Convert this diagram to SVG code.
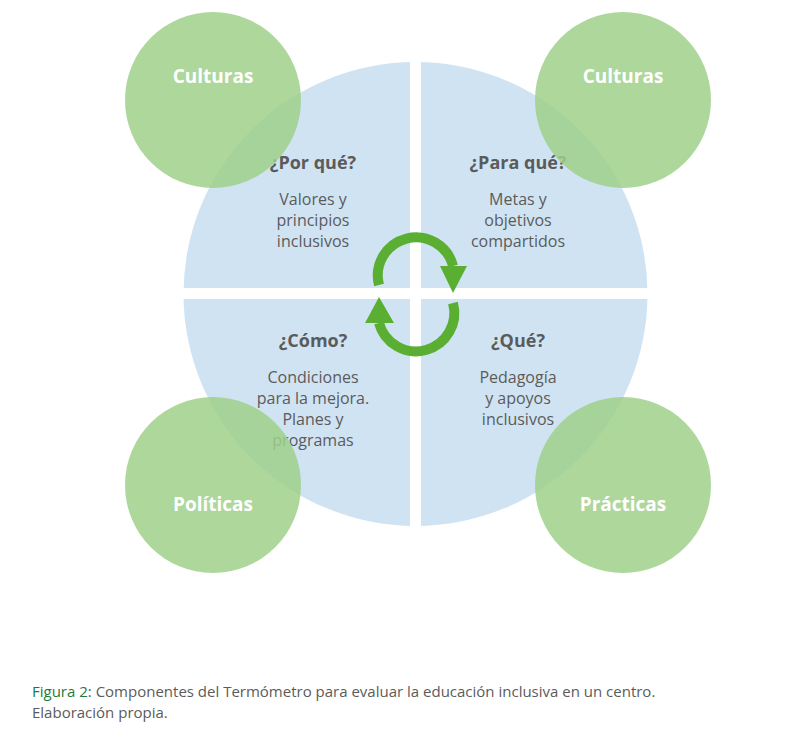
<svg xmlns="http://www.w3.org/2000/svg" width="791" height="737" viewBox="0 0 791 737">
<style>
.q{font-family:"Open Sans","Liberation Sans",sans-serif;fill:#5b5b5b;text-anchor:middle}
.h{font-size:18px;font-weight:bold}
.t{font-size:16px}
.g{fill:#9fd08a;opacity:0.85}
.gl{font-family:"Open Sans","Liberation Sans",sans-serif;font-size:19px;font-weight:bold;fill:#fff;text-anchor:middle}
.cap{font-family:"Open Sans","Liberation Sans",sans-serif;font-size:15px;fill:#5b5b5b}
</style>
<rect width="791" height="737" fill="#fff"/>
<g id="wheel">
<circle cx="415.5" cy="294" r="232" fill="#d0e3f3"/>
<rect x="410" y="55" width="11" height="480" fill="#fff"/>
<rect x="175" y="288" width="480" height="11" fill="#fff"/>
</g>
<g id="por-que" class="q"><text class="h" x="313" y="169">¿Por qué?</text><text class="t" x="313" y="205">Valores y</text><text class="t" x="313" y="226">principios</text><text class="t" x="313" y="247">inclusivos</text></g>
<g id="para-que" class="q"><text class="h" x="518" y="169">¿Para qué?</text><text class="t" x="518" y="205">Metas y</text><text class="t" x="518" y="226">objetivos</text><text class="t" x="518" y="247">compartidos</text></g>
<g id="como" class="q"><text class="h" x="313" y="347">¿Cómo?</text><text class="t" x="313" y="383">Condiciones</text><text class="t" x="313" y="404">para la mejora.</text><text class="t" x="313" y="425">Planes y</text><text class="t" x="313" y="446">programas</text></g>
<g id="que" class="q"><text class="h" x="518" y="347">¿Qué?</text><text class="t" x="518" y="383">Pedagogía</text><text class="t" x="518" y="404">y apoyos</text><text class="t" x="518" y="425">inclusivos</text></g>
<g id="culturas1"><circle class="g" cx="213" cy="100" r="88"/><text class="gl" x="213" y="83">Culturas</text></g>
<g id="culturas2"><circle class="g" cx="623" cy="100" r="88"/><text class="gl" x="623" y="83">Culturas</text></g>
<g id="politicas"><circle class="g" cx="213" cy="485" r="88"/><text class="gl" x="213" y="511">Políticas</text></g>
<g id="practicas"><circle class="g" cx="623" cy="485" r="88"/><text class="gl" x="623" y="511">Prácticas</text></g>
<g id="connectors" fill="none" stroke="#5aaf32" stroke-width="10">
<path d="M379 285 A37 37 0 0 1 453 266"/>
<polygon points="440,266 467,266 453,293" fill="#5aaf32" stroke="none"/>
<path d="M453 303 A37 37 0 0 1 379 323"/>
<polygon points="365,323 394,323 379,297" fill="#5aaf32" stroke="none"/>
</g>
<text class="cap" x="32" y="697"><tspan fill="#1f7a3a">Figura 2</tspan>: Componentes del Termómetro para evaluar la educación inclusiva en un centro.</text>
<text class="cap" x="32" y="718">Elaboración propia.</text>
</svg>
